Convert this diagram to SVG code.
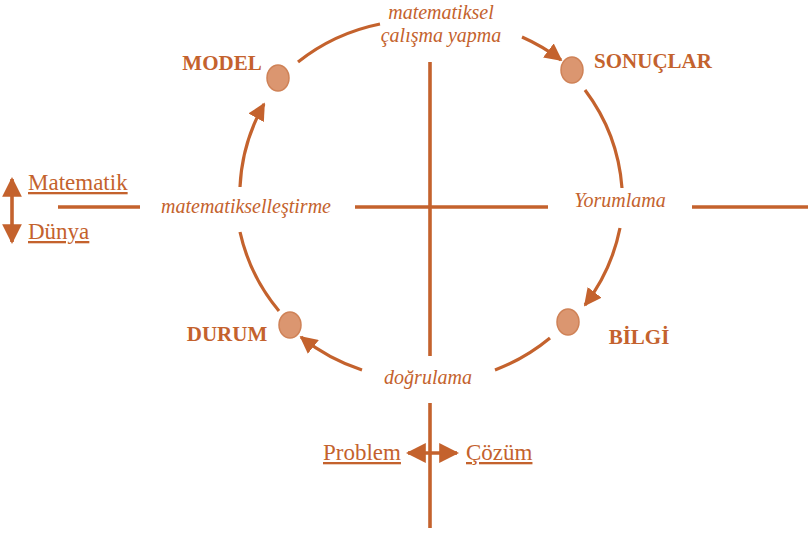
<svg xmlns="http://www.w3.org/2000/svg" width="808" height="534" viewBox="0 0 808 534">
<style>
.ln{stroke:#C4622D;stroke-width:3.6;fill:none}
.arc{stroke:#C4622D;stroke-width:3.2;fill:none}
.dot{fill:#DB9670;stroke:#CF8257;stroke-width:1.5}
.lbl{font-family:"Liberation Serif",serif;font-weight:bold;font-size:21px;fill:#C4622D}
.it{font-family:"Liberation Serif",serif;font-style:italic;font-size:20px;fill:#C4622D}
.ul{font-family:"Liberation Serif",serif;font-size:23px;fill:#C4622D;text-decoration:underline}
</style>
<defs>
<marker id="ah" viewBox="0 0 10 10" refX="9" refY="5" markerWidth="5.5" markerHeight="5.5" orient="auto-start-reverse" markerUnits="strokeWidth">
<path d="M0,0 L10,5 L0,10 z" fill="#C4622D"/>
</marker>
</defs>
<g id="connectors">
<line class="ln" x1="58" y1="207" x2="140" y2="207"/>
<line class="ln" x1="355" y1="207" x2="548" y2="207"/>
<line class="ln" x1="692" y1="207" x2="808" y2="207"/>
<line class="ln" x1="430" y1="62" x2="430" y2="356"/>
<line class="ln" x1="430" y1="403" x2="430" y2="528"/>
<line class="ln" x1="408" y1="453" x2="457" y2="453" marker-start="url(#ah)" marker-end="url(#ah)"/>
<line class="ln" x1="12" y1="179" x2="12" y2="242" marker-start="url(#ah)" marker-end="url(#ah)"/>
<path class="arc" d="M298,62 A192,188 0 0 1 380,24"/>
<path class="arc" d="M522,37 A192,188 0 0 1 561,60" marker-end="url(#ah)"/>
<path class="arc" d="M585,90 A192,188 0 0 1 622,188"/>
<path class="arc" d="M620,228 A192,188 0 0 1 585,305" marker-end="url(#ah)"/>
<path class="arc" d="M550,338 A192,188 0 0 1 495,370"/>
<path class="arc" d="M362,370 A192,188 0 0 1 301,337" marker-end="url(#ah)"/>
<path class="arc" d="M279,311 A192,188 0 0 1 240,232"/>
<path class="arc" d="M240,187 A192,188 0 0 1 264,104" marker-end="url(#ah)"/>
</g>
<g id="model"><ellipse class="dot" cx="278" cy="78" rx="11" ry="13"/><text class="lbl" x="222" y="70" text-anchor="middle">MODEL</text></g>
<g id="sonuclar"><ellipse class="dot" cx="572" cy="70" rx="11" ry="13"/><text class="lbl" x="653" y="68" text-anchor="middle">SONUÇLAR</text></g>
<g id="durum"><ellipse class="dot" cx="290" cy="325" rx="11" ry="13"/><text class="lbl" x="227" y="341" text-anchor="middle">DURUM</text></g>
<g id="bilgi"><ellipse class="dot" cx="568" cy="322" rx="11" ry="13"/><text class="lbl" x="639" y="344" text-anchor="middle">BİLGİ</text></g>
<g id="calisma"><text class="it" x="441" y="19" text-anchor="middle">matematiksel</text><text class="it" x="441" y="42" text-anchor="middle">çalışma yapma</text></g>
<g id="matematiksellestirme"><text class="it" x="246" y="213" text-anchor="middle">matematikselleştirme</text></g>
<g id="yorumlama"><text class="it" x="620" y="207" text-anchor="middle">Yorumlama</text></g>
<g id="dogrulama"><text class="it" x="428" y="384" text-anchor="middle">doğrulama</text></g>
<g id="matematik"><text class="ul" x="28" y="190">Matematik</text></g>
<g id="dunya"><text class="ul" x="28" y="239">Dünya</text></g>
<g id="problem"><text class="ul" x="323" y="460">Problem</text></g>
<g id="cozum"><text class="ul" x="466" y="460">Çözüm</text></g>
</svg>
